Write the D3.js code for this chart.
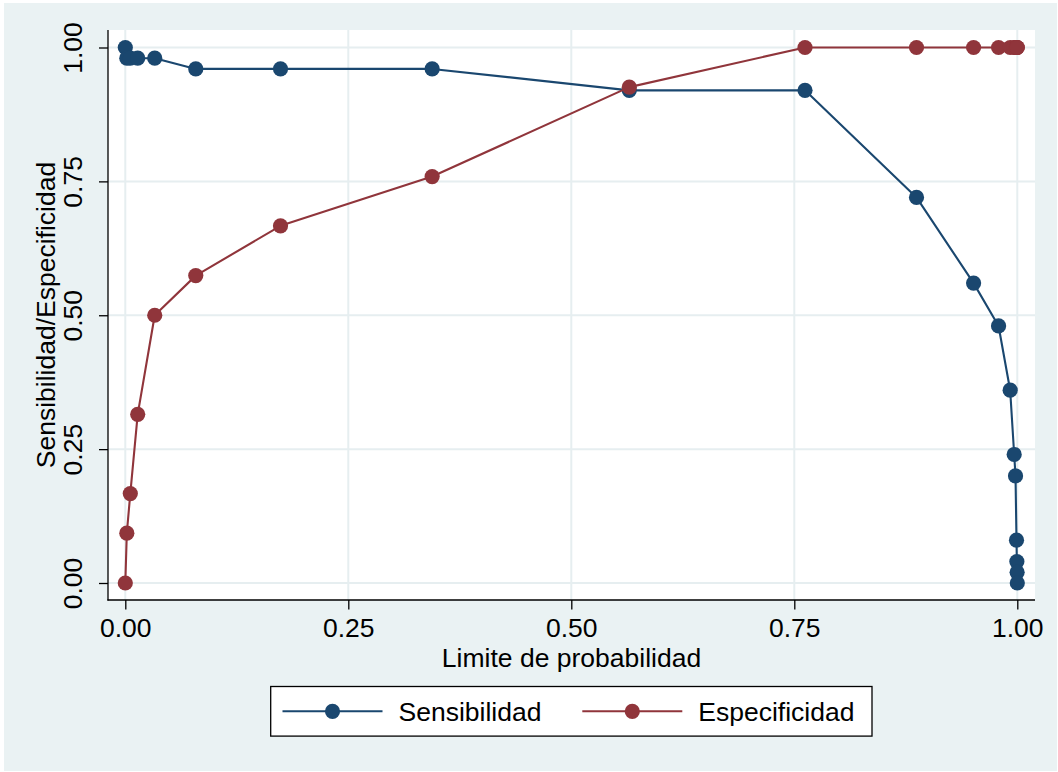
<!DOCTYPE html>
<html>
<head>
<meta charset="utf-8">
<script src="https://cdn.jsdelivr.net/npm/d3@7"></script>
<style>
  body { margin: 0; background: #ffffff; }
  text { font-family: "Liberation Sans", Arial, sans-serif; fill: #000; }
</style>
</head>
<body>
<svg id="chart" width="1058" height="772"></svg>
<script>
// Probability cut-off and the two rates at each cut-off
const thresholds = [0, 0.0017, 0.0056, 0.0139, 0.033, 0.079, 0.174, 0.344, 0.565, 0.762,
                    0.887, 0.951, 0.979, 0.992, 0.9965, 0.998, 0.9991, 0.9995, 0.9998, 1.0];
const sensibilidad = [1.00, 0.98, 0.98, 0.98, 0.98, 0.96, 0.96, 0.96, 0.92, 0.92,
                      0.72, 0.56, 0.48, 0.36, 0.24, 0.20, 0.08, 0.04, 0.02, 0.00];
const especificidad = [0.000, 0.093, 0.167, 0.315, 0.500, 0.574, 0.667, 0.759, 0.926, 1.000,
                       1.000, 1.000, 1.000, 1.000, 1.000, 1.000, 1.000, 1.000, 1.000, 1.000];
const xTicks = [0, 0.25, 0.5, 0.75, 1];
const yTicks = [0, 0.25, 0.5, 0.75, 1];
const seriesNames = ["Sensibilidad", "Especificidad"];
const xTitle = "Limite de probabilidad";
const yTitle = "Sensibilidad/Especificidad";

const colors = ["#1a476f", "#90353b"];
const W = 1058, H = 772;
const plot = { left: 108, top: 30, right: 1035, bottom: 600 };
const fontSize = 26.5;
const markerR = 7.6;

const svg = d3.select("#chart");

// Outer graph region
svg.append("rect").attr("x", 0).attr("y", 0).attr("width", W).attr("height", H).attr("fill", "#ffffff");
svg.append("rect").attr("x", 4).attr("y", 3).attr("width", W - 5).attr("height", H - 4).attr("fill", "#eaf2f3");

// Plot region
svg.append("rect")
  .attr("x", plot.left).attr("y", plot.top)
  .attr("width", plot.right - plot.left).attr("height", plot.bottom - plot.top)
  .attr("fill", "#ffffff");

const x = d3.scaleLinear().domain([0, 1]).range([125.3, 1017.3]);
const y = d3.scaleLinear().domain([0, 1]).range([583, 47.5]);

// Grid lines
const grid = svg.append("g").attr("stroke", "#e6eef0").attr("stroke-width", 2);
grid.selectAll("line.h").data(yTicks).join("line")
  .attr("x1", plot.left).attr("x2", plot.right)
  .attr("y1", d => y(d)).attr("y2", d => y(d));
grid.selectAll("line.v").data(xTicks).join("line")
  .attr("y1", plot.top).attr("y2", plot.bottom)
  .attr("x1", d => x(d)).attr("x2", d => x(d));

// Axes
const fmt = d3.format(".2f");
const yAxis = svg.append("g")
  .attr("transform", `translate(${plot.left},0)`)
  .call(d3.axisLeft(y).tickValues(yTicks).tickFormat(fmt).tickSize(9).tickSizeOuter(0));
yAxis.select(".domain").remove();
yAxis.selectAll(".tick line").attr("stroke", "#000").attr("stroke-width", 1.3);
yAxis.selectAll(".tick text")
  .attr("x", 0).attr("y", -26).attr("dy", null)
  .attr("transform", "rotate(-90)")
  .attr("text-anchor", "middle")
  .style("font-size", fontSize + "px")
  .style("font-family", '"Liberation Sans", Arial, sans-serif')
  .attr("fill", "#000");

const xAxis = svg.append("g")
  .attr("transform", `translate(0,${plot.bottom})`)
  .call(d3.axisBottom(x).tickValues(xTicks).tickFormat(fmt).tickSize(9.5).tickSizeOuter(0));
xAxis.select(".domain").remove();
xAxis.selectAll(".tick line").attr("stroke", "#000").attr("stroke-width", 1.3);
xAxis.selectAll(".tick text")
  .attr("y", 37).attr("dy", null)
  .attr("text-anchor", "middle")
  .style("font-size", fontSize + "px")
  .style("font-family", '"Liberation Sans", Arial, sans-serif')
  .attr("fill", "#000");

// Axis lines
svg.append("line").attr("x1", plot.left).attr("x2", plot.left)
  .attr("y1", plot.top).attr("y2", plot.bottom + 0.6)
  .attr("stroke", "#000").attr("stroke-width", 1.3);
svg.append("line").attr("x1", plot.left - 0.6).attr("x2", plot.right)
  .attr("y1", plot.bottom).attr("y2", plot.bottom)
  .attr("stroke", "#000").attr("stroke-width", 1.3);

// Axis titles
svg.append("text")
  .attr("transform", `translate(55,315) rotate(-90)`)
  .attr("text-anchor", "middle")
  .style("font-size", fontSize + "px")
  .text(yTitle);
svg.append("text")
  .attr("x", (plot.left + plot.right) / 2).attr("y", 667)
  .attr("text-anchor", "middle")
  .style("font-size", fontSize + "px")
  .text(xTitle);

// Series: connected lines with filled circle markers
const seriesValues = [sensibilidad, especificidad];
const line = d3.line().x(d => x(d[0])).y(d => y(d[1]));
seriesValues.forEach((vals, i) => {
  const pts = thresholds.map((t, k) => [t, vals[k]]);
  svg.append("path").datum(pts)
    .attr("d", line)
    .attr("fill", "none")
    .attr("stroke", colors[i])
    .attr("stroke-width", 2.1)
    .attr("stroke-linejoin", "round");
  svg.append("g").selectAll("circle").data(pts).join("circle")
    .attr("cx", d => x(d[0])).attr("cy", d => y(d[1]))
    .attr("r", markerR)
    .attr("fill", colors[i]);
});

// Legend
const legend = svg.append("g");
const legendY = 711.3;
legend.append("rect")
  .attr("x", 270.7).attr("y", legendY - 24.8).attr("width", 601.3).attr("height", 49.6)
  .attr("fill", "#ffffff").attr("stroke", "#000").attr("stroke-width", 1.3);
const keyLeft = [282.5, 582.3];
const keyWidth = 100;
seriesNames.forEach((name, i) => {
  legend.append("line")
    .attr("x1", keyLeft[i]).attr("x2", keyLeft[i] + keyWidth)
    .attr("y1", legendY).attr("y2", legendY)
    .attr("stroke", colors[i]).attr("stroke-width", 2.1);
  legend.append("circle")
    .attr("cx", keyLeft[i] + keyWidth / 2).attr("cy", legendY)
    .attr("r", markerR).attr("fill", colors[i]);
  legend.append("text")
    .attr("x", keyLeft[i] + keyWidth + 16).attr("y", legendY + 9.5)
    .style("font-size", fontSize + "px")
    .text(name);
});
</script>
</body>
</html>
